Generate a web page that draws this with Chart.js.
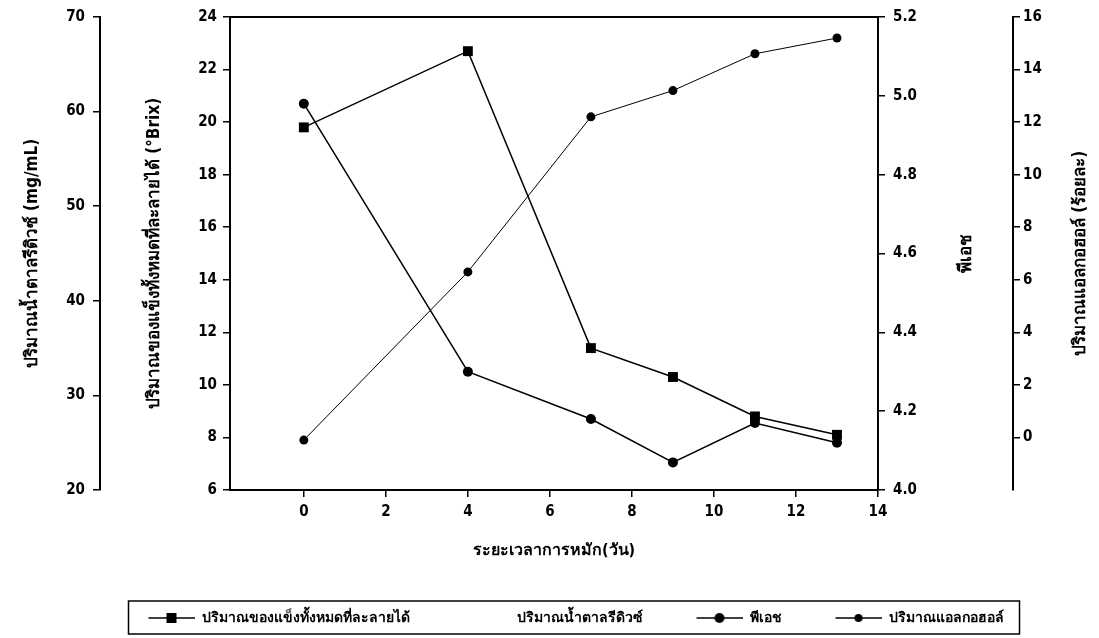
<!DOCTYPE html>
<html>
<head>
<meta charset="utf-8">
<script src="https://cdn.jsdelivr.net/npm/chart.js@4.4.1/dist/chart.umd.min.js"></script>
<style>
html,body{margin:0;padding:0;background:#fff;}
#wrap{width:1099px;height:638px;position:relative;}
</style>
</head>
<body>
<div id="wrap"><canvas id="c" width="1099" height="638"></canvas></div>
<script>
// ---- data ----
const days = [0, 4, 7, 9, 11, 13];
const solids = [19.8, 22.7, 11.4, 10.3, 8.8, 8.1];      // °Brix
const sugar = [];                                        // not visible in the picture
const ph = [4.98, 4.30, 4.18, 4.07, 4.17, 4.12];
const alcohol = [-0.1, 6.3, 12.2, 13.2, 14.6, 15.2];    // ร้อยละ
const xTicks = [0, 2, 4, 6, 8, 10, 12, 14];
const seriesNames = ['ปริมาณของแข็งทั้งหมดที่ละลายได้', 'ปริมาณน้ำตาลรีดิวซ์', 'พีเอช', 'ปริมาณแอลกอฮอล์'];
const titles = {
  x: 'ระยะเวลาการหมัก(วัน)',
  sugar: 'ปริมาณน้ำตาลรีดิวซ์ (mg/mL)',
  solids: 'ปริมาณของแข็งทั้งหมดที่ละลายได้ (°Brix)',
  ph: 'พีเอช',
  alc: 'ปริมาณแอลกอฮอล์ (ร้อยละ)'
};

const FF = '"DejaVu Sans Condensed", "Liberation Sans Narrow", "Noto Sans", "DejaVu Sans", sans-serif';
const tickFont = {family: FF, size: 15, weight: 'bold'};
const titleFont = {family: FF, size: 17, weight: 'bold'};

function pts(ys) { return ys.map((y, i) => ({x: days[i], y: y})); }

// legend symbol: blank gap on the left, then line with marker
const GAP = 44, SYM = 46;
function legendSymbol(style, r) {
  const c = document.createElement('canvas');
  c.width = GAP + SYM; c.height = 14;
  const g = c.getContext('2d');
  if (style) {
    g.strokeStyle = '#000'; g.lineWidth = 1.5;
    g.beginPath(); g.moveTo(GAP, 7); g.lineTo(GAP + SYM, 7); g.stroke();
    g.fillStyle = '#000';
    const cx = GAP + SYM / 2;
    if (style === 'rect') g.fillRect(cx - r, 7 - r, 2 * r, 2 * r);
    else { g.beginPath(); g.arc(cx, 7, r, 0, Math.PI * 2); g.fill(); }
  }
  return c;
}
const legendSyms = [legendSymbol('rect', 5), legendSymbol(null), legendSymbol('circle', 5), legendSymbol('circle', 4)];

function axisCommon() {
  return {
    grid: {drawOnChartArea: false, color: '#000', tickLength: 7, lineWidth: 1.5},
    border: {color: '#000', width: 2},
    ticks: {color: '#000', font: tickFont}
  };
}

const frame = {
  id: 'frame',
  afterDatasetsDraw(chart) {
    const {ctx, chartArea: a} = chart;
    ctx.save();
    ctx.strokeStyle = '#000'; ctx.lineWidth = 2;
    ctx.beginPath(); ctx.moveTo(a.left, a.top); ctx.lineTo(a.right, a.top); ctx.stroke();
    // right-side titles, rotated like the left ones
    ctx.fillStyle = '#000';
    ctx.font = 'bold 17px ' + FF;
    ctx.textAlign = 'center'; ctx.textBaseline = 'middle';
    const yc = (a.top + a.bottom) / 2;
    const sp = chart.scales.yPh, sa = chart.scales.yAlc;
    [[titles.ph, sp.right - 46], [titles.alc, sa.right - 12]].forEach(([t, x]) => {
      ctx.save(); ctx.translate(x, yc); ctx.rotate(-Math.PI / 2); ctx.fillText(t, 0, 0); ctx.restore();
    });
    // legend frame
    const lg = chart.legend;
    if (lg && lg.legendHitBoxes && lg.legendHitBoxes.length) {
      const hb = lg.legendHitBoxes;
      const l = Math.min(...hb.map(h => h.left)) + GAP - 20;
      const r = Math.max(...hb.map(h => h.left + h.width)) + 16;
      const t = Math.min(...hb.map(h => h.top)) - 10;
      const b = Math.max(...hb.map(h => h.top + h.height)) + 9;
      ctx.lineWidth = 1.5;
      ctx.strokeRect(l, t, r - l, b - t);
    }
    ctx.restore();
  }
};

new Chart(document.getElementById('c'), {
  type: 'line',
  data: {
    datasets: [
      {label: seriesNames[0], data: pts(solids), yAxisID: 'ySolids', borderColor: '#000', backgroundColor: '#000',
       borderWidth: 1.5, pointStyle: 'rect', pointRadius: 7, pointBorderWidth: 0, order: 1},
      {label: seriesNames[1], data: pts(sugar), yAxisID: 'ySugar', borderColor: '#000', backgroundColor: '#000',
       borderWidth: 1.5, pointRadius: 0, order: 2},
      {label: seriesNames[2], data: pts(ph), yAxisID: 'yPh', borderColor: '#000', backgroundColor: '#000',
       borderWidth: 1.5, pointStyle: 'circle', pointRadius: 5, pointBorderWidth: 0, order: 3},
      {label: seriesNames[3], data: pts(alcohol), yAxisID: 'yAlc', borderColor: '#000', backgroundColor: '#000',
       borderWidth: 1, pointStyle: 'circle', pointRadius: 4.5, pointBorderWidth: 0, order: 4}
    ]
  },
  options: {
    responsive: false,
    animation: false,
    layout: {padding: {left: 15, right: 6, top: 17, bottom: 3}},
    plugins: {
      tooltip: {enabled: false},
      legend: {
        position: 'bottom',
        labels: {
          usePointStyle: true, pointStyleWidth: GAP + SYM, padding: 10,
          color: '#000', font: {family: FF, size: 14, weight: 'bold'},
          generateLabels(chart) {
            return chart.data.datasets.map((d, i) => ({
              text: d.label, pointStyle: legendSyms[i], fillStyle: '#000', strokeStyle: '#000',
              lineWidth: 0, hidden: false, datasetIndex: i
            }));
          }
        }
      }
    },
    scales: {
      x: Object.assign(axisCommon(), {
        type: 'linear', position: 'bottom', min: -1.8, max: 14,
        afterBuildTicks(s) { s.ticks = xTicks.map(v => ({value: v})); },
        afterFit(s) { s.height = 111; },
        ticks: {color: '#000', font: tickFont, padding: 6},
        title: {display: true, text: titles.x, color: '#000', font: {family: FF, size: 16, weight: 'bold'}, padding: {top: 0, bottom: 41}}
      }),
      ySugar: Object.assign(axisCommon(), {
        type: 'linear', position: 'left', weight: 2, min: 20, max: 70,
        ticks: {color: '#000', font: tickFont, stepSize: 10, padding: 8},
        afterFit(s) { s.width = 85; },
        title: {display: true, text: titles.sugar, color: '#000', font: titleFont, padding: {top: 7, bottom: 0}}
      }),
      ySolids: Object.assign(axisCommon(), {
        type: 'linear', position: 'left', weight: 1, min: 6, max: 24,
        ticks: {color: '#000', font: tickFont, stepSize: 2, padding: 6},
        afterFit(s) { s.width = 130; },
        title: {display: true, text: titles.solids, color: '#000', font: titleFont, padding: {top: 44, bottom: 0}}
      }),
      yPh: Object.assign(axisCommon(), {
        type: 'linear', position: 'right', weight: 1, min: 4.0, max: 5.2,
        ticks: {color: '#000', font: tickFont, stepSize: 0.2, padding: 8, callback: v => v.toFixed(1)},
        afterFit(s) { s.width = 135; }
      }),
      yAlc: Object.assign(axisCommon(), {
        type: 'linear', position: 'right', weight: 2, min: -2, max: 16,
        afterBuildTicks(s) { s.ticks = s.ticks.filter(t => t.value >= 0); },
        ticks: {color: '#000', font: tickFont, stepSize: 2, padding: 3},
        afterFit(s) { s.width = 80; }
      })
    }
  },
  plugins: [frame]
});
</script>
</body>
</html>
